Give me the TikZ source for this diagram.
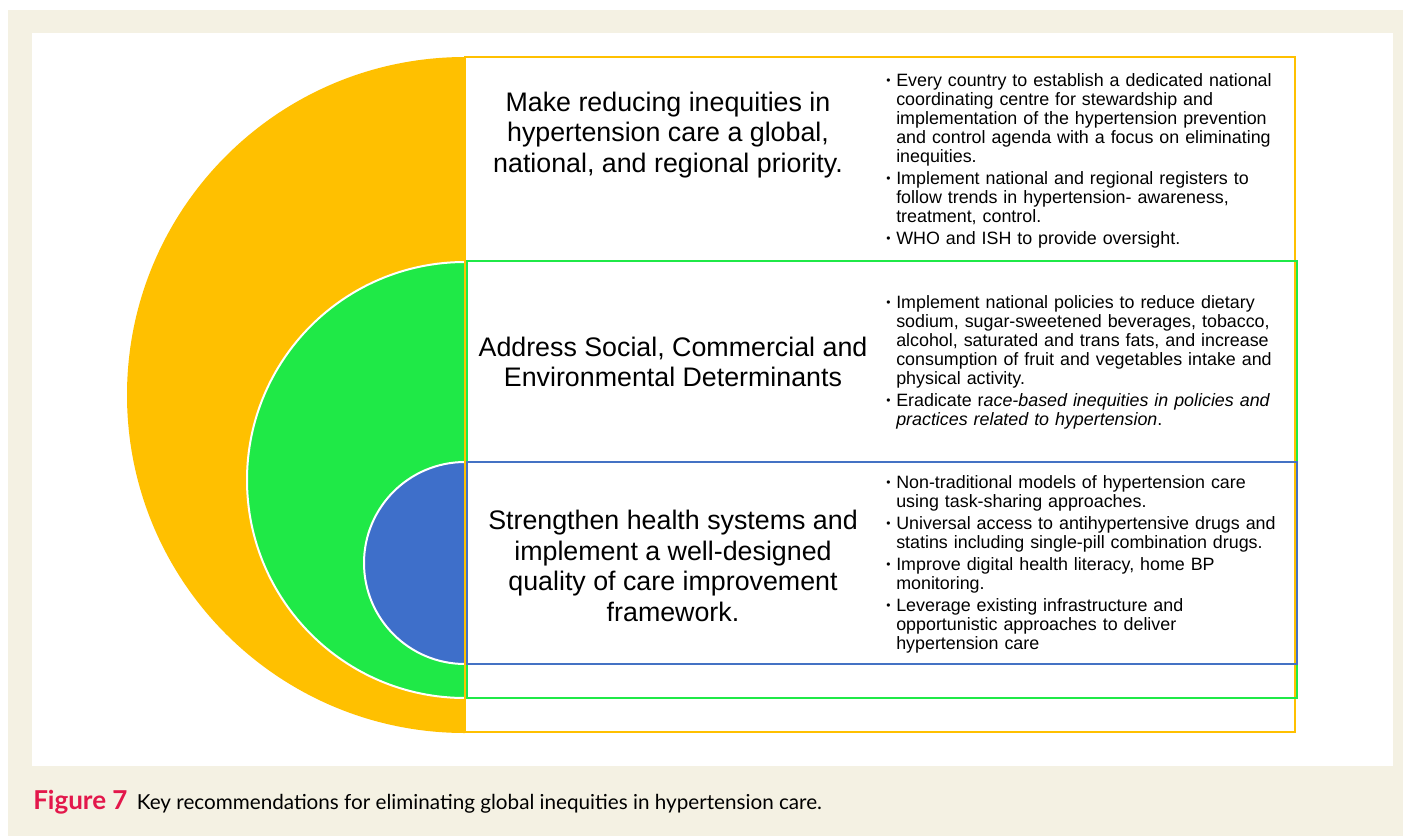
\documentclass[tikz,border=0pt]{standalone}
\usepackage{fontspec}
\setmainfont{Liberation Sans}
\newfontfamily\capfont{Lato}
\usepackage{xcolor}
\definecolor{ringyellow}{HTML}{FFC000}
\definecolor{ringgreen}{HTML}{1FE947}
\definecolor{ringblue}{HTML}{3E6FCA}
\definecolor{boxblue}{HTML}{4472C4}
\definecolor{pagebeige}{HTML}{F4F1E3}
\definecolor{figred}{HTML}{E3174B}

% one bullet point with hanging indent (lines broken with \newline)
\newcommand{\bpoint}[1]{\hangindent=7.5pt\hangafter=1\noindent
  \hbox to 7.5pt{\raisebox{0.9pt}{\fontsize{9}{9}\selectfont\textbullet}\hfil}#1\par}

\tikzset{
  heading/.style={align=center, inner sep=0pt, font=\fontsize{20.1}{22.9}\selectfont},
  points/.style={anchor=base west, inner sep=0pt, text width=320pt, align=left,
    font=\fontsize{13.4}{14.25}\selectfont,
    execute at begin node={\setlength{\parskip}{2.25pt}}},
}

\begin{document}
\begin{tikzpicture}[x=0.75pt, y=0.75pt]
      \useasboundingbox (0,0) rectangle (1403,-836);

      % page and white panel
      \fill[pagebeige] (8,-10) rectangle (1403,-836);
      \fill[white] (32,-33) rectangle (1393,-766);

      % half discs
      \fill[ringyellow] (465,-57) arc (90:270:338) -- cycle;
      \filldraw[fill=ringgreen, draw=white, line width=1.5] (465,-262) arc (90:270:218) -- cycle;
      \filldraw[fill=ringblue, draw=white, line width=1.5] (465,-462) arc (90:270:101) -- cycle;

      % boxes
      \draw[ringyellow, line width=2.2] (465,-57) rectangle (1295,-732);
      \draw[ringgreen, line width=2.2] (467,-261) rectangle (1297,-698);
      \draw[boxblue, line width=2.2] (467,-462) rectangle (1297,-664);

      % priority
      \node[heading] (prioHead) at (668,-135) {Make reducing inequities in\\hypertension care a global,\\national, and regional priority.};
      \node[points] (prioList) at (886,-86) {%
        \bpoint{Every country to establish a dedicated national\newline coordinating centre for stewardship and\newline implementation of the hypertension prevention\newline and control agenda with a focus on eliminating\newline inequities.}
        \bpoint{Implement national and regional registers to\newline follow trends in hypertension- awareness,\newline treatment, control.}
        \bpoint{WHO and ISH to provide oversight.}};

      % determinants
      \node[heading] (detHead) at (673,-362) {Address Social, Commercial and\\Environmental Determinants};
      \node[points] (detList) at (886,-308) {%
        \bpoint{Implement national policies to reduce dietary\newline sodium, sugar-sweetened beverages, tobacco,\newline alcohol, saturated and trans fats, and increase\newline consumption of fruit and vegetables intake and\newline physical activity.}
        \bpoint{Eradicate r\textit{ace-based inequities in policies and}\newline \textit{practices related to hypertension}.}};

      % health systems
      \node[heading] (sysHead) at (673,-566) {Strengthen health systems and\\implement a well-designed\\quality of care improvement\\framework.};
      \node[points] (sysList) at (886,-488) {%
        \bpoint{Non-traditional models of hypertension care\newline using task-sharing approaches.}
        \bpoint{Universal access to antihypertensive drugs and\newline statins including single-pill combination drugs.}
        \bpoint{Improve digital health literacy, home BP\newline monitoring.}
        \bpoint{Leverage existing infrastructure and\newline opportunistic approaches to deliver\newline hypertension care}};

      % caption
      \node[anchor=base west, inner sep=0pt, font=\capfont\fontsize{15.5}{18}\selectfont] (caption) at (33,-809)
        {\textcolor{figred}{\fontsize{19.5}{20}\selectfont\bfseries Figure 7}\hspace{7pt}Key recommendations for eliminating global inequities in hypertension care.};
\end{tikzpicture}
\end{document}
